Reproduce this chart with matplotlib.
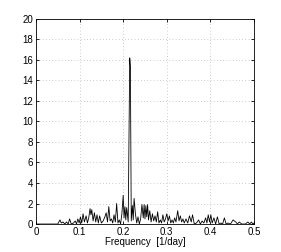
import matplotlib
matplotlib.use("Agg")
import matplotlib.pyplot as plt

# periodogram vertices (peaks and troughs)
freq = [
    0.0, 0.050, 0.055, 0.058, 0.062, 0.066, 0.070, 0.074, 0.077, 0.081,
    0.086, 0.090, 0.093, 0.096, 0.099, 0.102, 0.105, 0.108, 0.111, 0.115,
    0.118, 0.121, 0.124, 0.126, 0.128, 0.131, 0.134, 0.137, 0.140, 0.143,
    0.146, 0.150, 0.154, 0.158, 0.161, 0.164, 0.167, 0.170, 0.173, 0.176,
    0.179, 0.182, 0.185, 0.188, 0.191, 0.194, 0.197, 0.200, 0.202, 0.204,
    0.206, 0.208, 0.2115, 0.215, 0.2165, 0.2185, 0.221, 0.223, 0.225, 0.228,
    0.231, 0.234, 0.237, 0.240, 0.243, 0.246, 0.248, 0.250, 0.252, 0.254,
    0.256, 0.258, 0.261, 0.264, 0.267, 0.270, 0.273, 0.276, 0.279, 0.282,
    0.285, 0.288, 0.291, 0.294, 0.297, 0.300, 0.303, 0.306, 0.309, 0.312,
    0.315, 0.318, 0.321, 0.325, 0.328, 0.331, 0.334, 0.337, 0.340, 0.344,
    0.348, 0.352, 0.356, 0.359, 0.363, 0.368, 0.373, 0.377, 0.381, 0.385,
    0.389, 0.392, 0.395, 0.398, 0.401, 0.404, 0.408, 0.412, 0.416, 0.420,
    0.424, 0.428, 0.432, 0.436, 0.440, 0.446, 0.452, 0.458, 0.462, 0.466,
    0.472, 0.480, 0.486, 0.490, 0.494, 0.497, 0.500,
]
power = [
    0.0, 0.0, 0.4, 0.1, 0.2, 0.0, 0.2, 0.0, 0.5, 0.0,
    0.1, 0.3, 0.0, 0.5, 0.1, 0.7, 0.1, 1.0, 0.2, 0.8,
    0.1, 0.6, 1.5, 0.9, 1.4, 0.3, 1.1, 0.2, 0.9, 0.1,
    0.8, 0.1, 0.3, 0.7, 1.1, 0.2, 1.7, 0.3, 0.5, 0.1,
    0.9, 0.2, 2.0, 0.1, 0.4, 0.0, 1.0, 2.8, 0.6, 1.7,
    0.4, 1.6, 0.2, 16.2, 15.4, 0.3, 1.8, 0.4, 2.5, 1.0,
    0.1, 0.7, 0.0, 0.5, 1.9, 0.6, 1.9, 0.5, 1.8, 0.7,
    1.9, 0.4, 1.3, 0.2, 1.0, 0.3, 0.8, 0.2, 1.2, 0.1,
    0.4, 0.1, 0.9, 0.2, 0.5, 1.0, 0.3, 0.8, 0.1, 0.4,
    0.1, 0.6, 0.2, 1.3, 0.3, 0.8, 0.2, 0.5, 0.1, 0.5,
    0.1, 0.8, 0.2, 0.9, 0.0, 0.1, 0.4, 0.0, 0.3, 0.1,
    0.6, 0.1, 0.9, 0.2, 0.9, 0.1, 0.6, 0.0, 0.7, 0.0,
    0.1, 0.0, 0.6, 0.0, 0.1, 0.0, 0.4, 0.2, 0.0, 0.2,
    0.0, 0.0, 0.2, 0.0, 0.2, 0.0, 0.1,
]

x_ticks = [0, 0.1, 0.2, 0.3, 0.4, 0.5]
x_labels = ["0", "0.1", "0.2", "0.3", "0.4", "0.5"]
y_ticks = [0, 2, 4, 6, 8, 10, 12, 14, 16, 18, 20]

plt.rcParams["font.family"] = ["Liberation Sans", "DejaVu Sans"]
plt.rcParams["font.size"] = 7

fig = plt.figure(figsize=(2.81, 2.52), dpi=100)
ax = fig.add_axes([0.128, 0.111, 0.776, 0.814])

ax.plot(freq, power, color="k", lw=0.6)

ax.set_xlim(0, 0.5)
ax.set_ylim(0, 20)
ax.set_xticks(x_ticks)
ax.set_xticklabels(x_labels)
ax.set_yticks(y_ticks)
ax.grid(True, ls=(0, (0.8, 3)), color="#aaaaaa", lw=0.6)
ax.tick_params(direction="in", length=2.5, width=0.6, top=True, right=True, pad=2)
for s in ax.spines.values():
    s.set_linewidth(0.6)
ax.set_xlabel("Frequency  [1/day]", labelpad=0)

fig.savefig("out.png", dpi=100)
